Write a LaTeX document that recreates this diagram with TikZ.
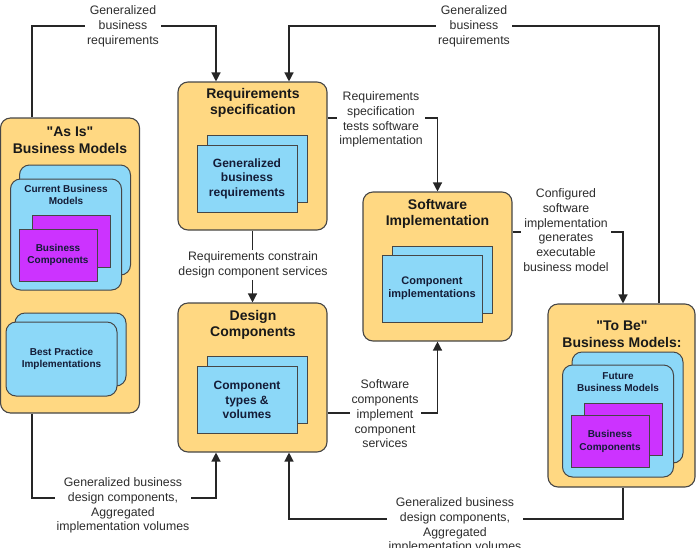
\documentclass[tikz,border=0pt]{standalone}
\usepackage{fontspec}
\setmainfont{Liberation Sans}
\newfontfamily\qfont{Liberation Sans}
\usetikzlibrary{arrows.meta}
\definecolor{boxyellow}{RGB}{255,216,130}
\definecolor{boxblue}{RGB}{140,216,248}
\definecolor{boxpurple}{RGB}{204,51,255}
\definecolor{edgegray}{RGB}{70,70,70}
\definecolor{inktext}{RGB}{20,28,55}
\definecolor{labtext}{RGB}{45,45,45}
\newcommand{\sq}{{\qfont\symbol{34}}}
\begin{document}
\begin{tikzpicture}[x=1pt,y=-1pt,
  outerbox/.style={draw=edgegray, fill=boxyellow, rounded corners=10pt, line width=1.1pt, inner sep=0pt},
  blueflat/.style={draw=edgegray, fill=boxblue, line width=1pt, inner sep=0pt, minimum width=100pt, minimum height=67pt,
     font=\fontsize{12}{14.5}\selectfont\bfseries, text=inktext, align=center},
  blueround/.style={draw=edgegray, fill=boxblue, rounded corners=10pt, line width=1pt, inner sep=0pt, minimum width=111pt},
  purplebox/.style={draw=edgegray, fill=boxpurple, line width=1pt, inner sep=0pt, minimum width=78pt, minimum height=52pt,
     font=\fontsize{10}{12.5}\selectfont\bfseries, text=inktext, align=center},
  titletext/.style={font=\fontsize{14}{16.5}\selectfont\bfseries, text=black!90, align=center, inner sep=0pt},
  smalltext/.style={font=\fontsize{10}{12.5}\selectfont\bfseries, text=inktext, align=center, inner sep=0pt},
  conn/.style={draw=black!85, line width=1.3pt},
  arr/.style={-{Triangle[length=9pt,width=9pt]}},
  lab/.style={fill=white, align=center, inner sep=2pt, font=\fontsize{12.3}{14.8}\selectfont, text=labtext}
]
\useasboundingbox (0,0) rectangle (696,547);
\clip (0,0) rectangle (696,547);

% ---- outer boxes
\node[outerbox, minimum width=139pt, minimum height=295pt] (asis) at (70,265.5) {};
\node[outerbox, minimum width=149pt, minimum height=148pt] (req) at (252.5,156) {};
\node[outerbox, minimum width=149pt, minimum height=149pt] (soft) at (437.5,266.5) {};
\node[outerbox, minimum width=149pt, minimum height=149pt] (design) at (252.5,377.5) {};
\node[outerbox, minimum width=147pt, minimum height=183pt] (tobe) at (621.5,395.5) {};

% ---- titles
\node[titletext] (asist) at (70,140) {\sq As Is\sq\\Business Models};
\node[titletext] (reqt) at (253,103) {Requirements\\specification};
\node[titletext] (softt) at (437.5,214) {Software\\Implementation};
\node[titletext] (designt) at (253,325) {Design\\Components};
\node[titletext] (tobet) at (622,334) {\sq To Be\sq\\Business Models:};

% ---- As Is contents
\node[blueround, minimum height=110pt] (asisb2) at (75,220) {};
\node[blueround, minimum height=111pt] (asisb1) at (66,234.5) {};
\node[smalltext] (asisbt) at (66,195) {Current Business\\Models};
\node[purplebox] (asisp2) at (71,241.5) {};
\node[purplebox] (asisp1) at (58,255) {Business\\Components};
\node[blueround, minimum height=73pt] (best2) at (70.5,349.5) {};
\node[blueround, minimum height=74pt, smalltext] (best1) at (61.5,359) {Best Practice\\Implementations};

% ---- Requirements contents
\node[blueflat] (reqb2) at (257,169) {};
\node[blueflat] (reqb1) at (247,178.5) {Generalized\\business\\requirements};

% ---- Software contents
\node[blueflat] (softb2) at (442,279.5) {};
\node[blueflat, font=\fontsize{11}{13.5}\selectfont\bfseries] (softb1) at (432,288.5) {Component\\implementations};

% ---- Design contents
\node[blueflat] (desb2) at (257,390) {};
\node[blueflat] (desb1) at (247,400) {Component\\types \&\\volumes};

% ---- To Be contents
\node[blueround, minimum height=111pt] (tobeb2) at (627.5,407.5) {};
\node[blueround, minimum height=112pt] (tobeb1) at (618,421) {};
\node[smalltext] (tobebt) at (618,382) {Future\\Business Models};
\node[purplebox] (tobep2) at (623,429) {};
\node[purplebox] (tobep1) at (610,441.5) {Business\\Components};

% ---- bend coordinates
\coordinate (c1a) at (32,26);
\coordinate (c1b) at (216,26);
\coordinate (c2a) at (659,26);
\coordinate (c2b) at (289,26);
\coordinate (c3) at (437.5,118);
\coordinate (c5) at (623,232);
\coordinate (c6) at (437.5,413);
\coordinate (c7a) at (32,498);
\coordinate (c7b) at (216,498);
\coordinate (c8a) at (623,519);
\coordinate (c8b) at (289,519);

% ---- connectors
\draw[conn,arr] (asis.north -| c1a) -- (c1a) -- (c1b) -- (c1b |- req.north);
\draw[conn,arr] (tobe.north -| c2a) -- (c2a) -- (c2b) -- (c2b |- req.north);
\draw[conn,arr] (req.east |- c3) -- (c3) -- (c3 |- soft.north);
\draw[conn,arr] (req.south) -- (design.north);
\draw[conn,arr] (soft.east |- c5) -- (c5) -- (c5 |- tobe.north);
\draw[conn,arr] (design.east |- c6) -- (c6) -- (c6 |- soft.south);
\draw[conn,arr] (asis.south -| c7a) -- (c7a) -- (c7b) -- (c7b |- design.south);
\draw[conn,arr] (tobe.south -| c8a) -- (c8a) -- (c8b) -- (c8b |- design.south);

% ---- connector labels
\node[lab] (l1) at (123,26.5) {Generalized\\business\\requirements};
\node[lab] (l2) at (474,26.5) {Generalized\\business\\requirements};
\node[lab] (l3) at (381,119.5) {Requirements\\specification\\tests software\\implementation};
\node[lab] (l4) at (253,265) {Requirements constrain\\design component services};
\node[lab] (l5) at (566,230) {Configured\\software\\implementation\\generates\\executable\\business model};
\node[lab] (l6) at (385,414) {Software\\components\\implement\\component\\services};
\node[lab] (l7) at (123,505.5) {Generalized business\\design components,\\Aggregated\\implementation volumes};
\node[lab] (l8) at (455,525.5) {Generalized business\\design components,\\Aggregated\\implementation volumes};
\end{tikzpicture}
\end{document}
